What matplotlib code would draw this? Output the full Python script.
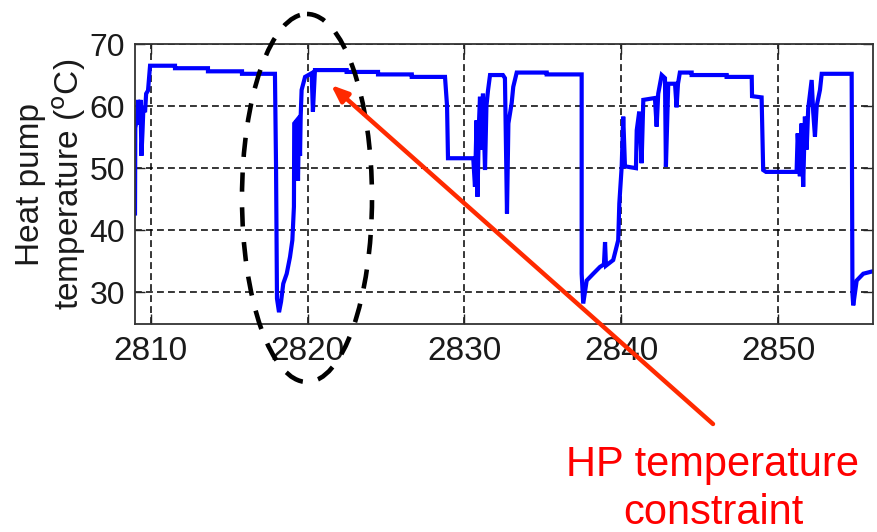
import matplotlib
matplotlib.use("Agg")
import matplotlib.pyplot as plt
from matplotlib.patches import Ellipse

# heat pump temperature trace (time in h, temperature in degC)
hours = [
    2809.00, 2809.02, 2809.13, 2809.19, 2809.29, 2809.35, 2809.41, 2809.48, 2809.54,
    2809.64, 2809.71, 2809.83, 2809.96, 2811.55, 2811.55, 2813.65, 2813.65, 2815.82,
    2815.82, 2817.92, 2817.99, 2818.05, 2818.18, 2818.31, 2818.45, 2818.67, 2818.88,
    2819.03, 2819.13, 2819.15, 2819.31, 2819.39, 2819.45, 2819.52, 2819.56, 2819.62,
    2819.84, 2820.26, 2820.34, 2820.47, 2822.49, 2822.49, 2824.49, 2824.49, 2826.64,
    2826.64, 2828.76, 2828.89, 2828.95, 2830.56, 2830.67, 2830.77, 2830.83, 2830.92,
    2830.99, 2831.08, 2831.18, 2831.31, 2831.40, 2831.50, 2831.63, 2832.45, 2832.58,
    2832.71, 2832.80, 2833.01, 2833.11, 2833.33, 2835.24, 2835.24, 2837.47, 2837.47,
    2837.57, 2837.79, 2838.21, 2838.64, 2838.89, 2838.96, 2839.02, 2839.48, 2839.80,
    2839.87, 2840.02, 2840.12, 2840.23, 2840.93, 2840.98, 2841.14, 2841.29, 2841.40,
    2842.14, 2842.25, 2842.35, 2842.57, 2842.78, 2842.84, 2842.99, 2843.42, 2843.52,
    2843.61, 2843.73, 2844.48, 2844.48, 2846.71, 2846.71, 2848.31, 2848.33, 2848.94,
    2849.04, 2849.22, 2851.17, 2851.24, 2851.38, 2851.49, 2851.59, 2851.70, 2851.81,
    2851.91, 2852.13, 2852.23, 2852.34, 2852.45, 2852.66, 2852.77, 2854.68, 2854.73,
    2854.78, 2855.00, 2855.42, 2856.04,
]
temp_c = [
    42.7, 56.5, 58.0, 61.0, 57.0, 61.0, 52.0, 56.0, 60.0,
    59.0, 62.0, 62.5, 66.5, 66.5, 66.1, 66.1, 65.6, 65.6,
    65.2, 65.2, 50.2, 29.0, 26.8, 28.5, 31.4, 33.0, 35.7,
    38.4, 43.8, 57.2, 57.7, 48.0, 57.5, 52.0, 58.3, 62.6,
    64.7, 65.3, 59.1, 65.8, 65.8, 65.5, 65.5, 65.1, 65.1,
    64.7, 64.7, 60.0, 51.6, 51.6, 47.0, 57.7, 45.4, 57.0,
    61.5, 53.0, 62.0, 49.7, 60.0, 62.5, 65.0, 65.0, 64.5,
    42.7, 57.2, 60.5, 63.1, 65.4, 65.4, 65.1, 65.1, 33.0,
    28.2, 31.9, 33.0, 34.1, 34.5, 38.1, 34.3, 35.2, 38.4,
    44.3, 50.2, 58.3, 50.3, 50.0, 56.1, 59.1, 50.8, 61.0,
    61.3, 56.7, 62.0, 65.0, 64.5, 50.2, 63.6, 63.6, 59.8,
    63.6, 65.4, 65.4, 65.0, 65.0, 64.7, 64.7, 61.6, 61.4,
    49.7, 49.4, 49.4, 55.6, 48.7, 57.2, 47.0, 58.3, 53.0,
    59.6, 64.2, 59.0, 55.1, 60.0, 62.6, 65.2, 65.2, 29.8,
    27.9, 31.9, 33.0, 33.4,
]
x_ticks = [2810, 2820, 2830, 2840, 2850]
y_ticks = [30, 40, 50, 60, 70]
note = ["HP temperature", "constraint"]

plt.rcParams["font.family"] = ["Liberation Sans", "DejaVu Sans"]

fig = plt.figure(figsize=(8.77, 5.32), dpi=100)
ax = fig.add_axes([135 / 877, 1 - 324 / 532, 738 / 877, 280 / 532])

ax.plot(hours, temp_c, color="#0000ff", linewidth=3.0, solid_joinstyle="miter")
ax.set_xlim(2809.0, 2856.04)
ax.set_ylim(24.9, 70.0)
ax.set_xticks(x_ticks)
ax.set_yticks(y_ticks)
ax.grid(True, color="black", linestyle=(0, (4.5, 2.7)), linewidth=1.1)
ax.tick_params(direction="in", top=True, right=True, length=7, width=1.0,
               labelsize=24, colors="#222222", labelcolor="#1a1a1a")
ax.tick_params(axis="x", pad=9)
ax.tick_params(axis="y", pad=7, labelsize=23)
for sp in ax.spines.values():
    sp.set_color("#333333")
    sp.set_linewidth(1.3)
ax.set_ylabel("Heat pump\ntemperature ($^{\\rm o}$C)", fontsize=24,
              color="#1a1a1a", linespacing=1.15, labelpad=1)

# annotation layer in pixel coordinates
ov = fig.add_axes([0, 0, 1, 1], facecolor="none")
ov.set_xlim(0, 877)
ov.set_ylim(532, 0)
ov.axis("off")
ov.add_patch(Ellipse((307, 198), 130, 368, fill=False, edgecolor="black",
                     linewidth=3.3, linestyle=(0, (4.2, 3.4))))
ov.annotate("", xy=(331, 85), xytext=(713, 424),
            arrowprops=dict(arrowstyle="-|>,head_length=1.0,head_width=0.4",
                            color="#ff2a00", linewidth=3.2,
                            shrinkA=0, shrinkB=0))
ov.text(713, 476, note[0], color="#ff0000", fontsize=30, ha="center", va="baseline")
ov.text(713, 524, note[1], color="#ff0000", fontsize=30, ha="center", va="baseline")

fig.savefig("out.png", dpi=100)
